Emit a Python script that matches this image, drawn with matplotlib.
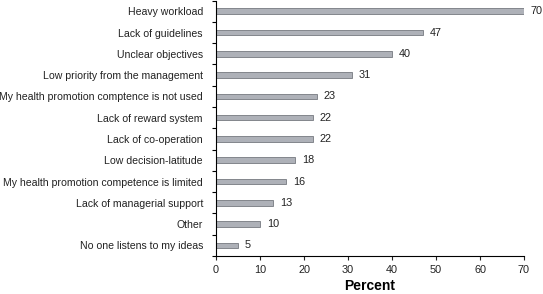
import matplotlib
matplotlib.use("Agg")
import matplotlib.pyplot as plt
import numpy as np

categories = ["Heavy workload", "Lack of guidelines", "Unclear objectives",
              "Low priority from the management",
              "My health promotion comptence is not used",
              "Lack of reward system", "Lack of co-operation",
              "Low decision-latitude",
              "My health promotion competence is limited",
              "Lack of managerial support", "Other", "No one listens to my ideas"]
values = [70, 47, 40, 31, 23, 22, 22, 18, 16, 13, 10, 5]
xticks = [0, 10, 20, 30, 40, 50, 60, 70]

plt.rcParams['font.family'] = ['Liberation Sans', 'DejaVu Sans']
fig = plt.figure(figsize=(5.43, 2.94), dpi=100)
ax = fig.add_axes([0.398, 0.129, 0.567, 0.869])
n = len(categories)
y = np.arange(n)
ax.barh(y, values, height=0.26, color='#aeb1b8', edgecolor='#767980', linewidth=0.6)
for yi, v in zip(y, values):
    ax.text(v + 1.5, yi, str(v), va='center', ha='left', fontsize=7.8, color='#222222')
ax.set_ylim(n - 0.5, -0.5)
ax.set_xlim(0, 70)
ax.set_xticks(xticks)
ax.tick_params(axis='x', labelsize=7.8, length=3, colors='#222222')
ax.set_yticks(np.arange(n + 1) - 0.5, minor=False)
ax.set_yticklabels([])
ax.set_yticks(y, minor=True)
ax.set_yticklabels(categories, minor=True)
ax.tick_params(axis='y', which='minor', length=0, labelsize=7.6, pad=9.5, colors='#222222')
ax.tick_params(axis='y', which='major', length=3)
ax.spines['top'].set_visible(False)
ax.spines['right'].set_visible(False)
ax.set_xlabel('Percent', fontsize=10, fontweight='bold', labelpad=3)
fig.savefig('out.png', dpi=100)
